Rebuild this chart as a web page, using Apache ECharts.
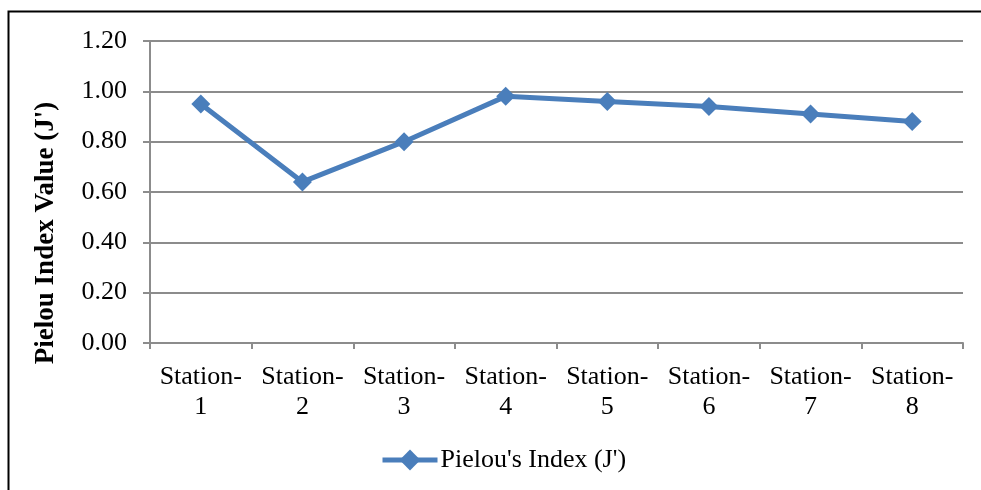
<!DOCTYPE html>
<html>
<head>
<meta charset="utf-8">
<script src="https://cdn.jsdelivr.net/npm/echarts@6/dist/echarts.min.js"></script>
<style>
  html, body { margin: 0; padding: 0; background: #fff; }
  #chart { width: 981px; height: 490px; }
</style>
</head>
<body>
<div id="chart"></div>
<script>
// Pielou's evenness index per sampling station
const stations = ['Station-\n1', 'Station-\n2', 'Station-\n3', 'Station-\n4',
                  'Station-\n5', 'Station-\n6', 'Station-\n7', 'Station-\n8'];
const pielouValues = [0.95, 0.64, 0.80, 0.98, 0.96, 0.94, 0.91, 0.88];
const seriesName = "Pielou's Index (J')";
const yAxisTitle = "Pielou Index Value (J')";

const FONT = '"Liberation Serif", "Times New Roman", serif';
const BLUE = '#4a7ebb';
const GRID_GRAY = '#8c8c8c';

const chart = echarts.init(document.getElementById('chart'), null, { renderer: 'canvas' });

chart.setOption({
  backgroundColor: '#ffffff',
  animation: false,
  graphic: [
    {
      // outer frame (top and left edges visible)
      type: 'polyline',
      shape: { points: [[8.5, 490], [8.5, 11.5], [981, 11.5]] },
      style: { stroke: '#000', lineWidth: 2, fill: null },
      silent: true
    },
    {
      // vertical axis title
      type: 'text',
      x: 46,
      y: 233,
      rotation: Math.PI / 2,
      style: {
        text: yAxisTitle,
        font: 'bold 27px ' + FONT,
        fill: '#000',
        align: 'center',
        verticalAlign: 'middle'
      },
      silent: true
    }
  ],
  grid: { left: 150, right: 18, top: 41, bottom: 147, containLabel: false },
  legend: {
    data: [seriesName],
    bottom: 12,
    left: 375,
    itemWidth: 55,
    itemHeight: 26,
    itemGap: 4,
    lineStyle: { width: 5, color: BLUE },
    itemStyle: { color: BLUE },
    textStyle: { fontFamily: FONT, fontSize: 26, color: '#000', padding: [0, 0, 0, -2] }
  },
  xAxis: {
    type: 'category',
    data: stations,
    boundaryGap: true,
    axisLine: { show: true, lineStyle: { color: GRID_GRAY, width: 2 } },
    axisTick: { show: true, length: 6, lineStyle: { color: GRID_GRAY, width: 2 } },
    axisLabel: {
      interval: 0,
      margin: 19,
      fontFamily: FONT,
      fontSize: 26,
      color: '#000',
      lineHeight: 30
    },
    splitLine: { show: false }
  },
  yAxis: {
    type: 'value',
    min: 0,
    max: 1.2,
    interval: 0.2,
    axisLine: { show: true, lineStyle: { color: GRID_GRAY, width: 2 } },
    axisTick: { show: true, length: 7, lineStyle: { color: GRID_GRAY, width: 2 } },
    axisLabel: {
      margin: 23,
      fontFamily: FONT,
      fontSize: 26,
      color: '#000',
      formatter: v => v.toFixed(2)
    },
    splitLine: { show: true, lineStyle: { color: GRID_GRAY, width: 2 } }
  },
  series: [
    {
      name: seriesName,
      type: 'line',
      data: pielouValues,
      symbol: 'diamond',
      symbolSize: 19,
      lineStyle: { color: BLUE, width: 5 },
      itemStyle: { color: BLUE },
      label: { show: false }
    }
  ]
});
</script>
</body>
</html>
